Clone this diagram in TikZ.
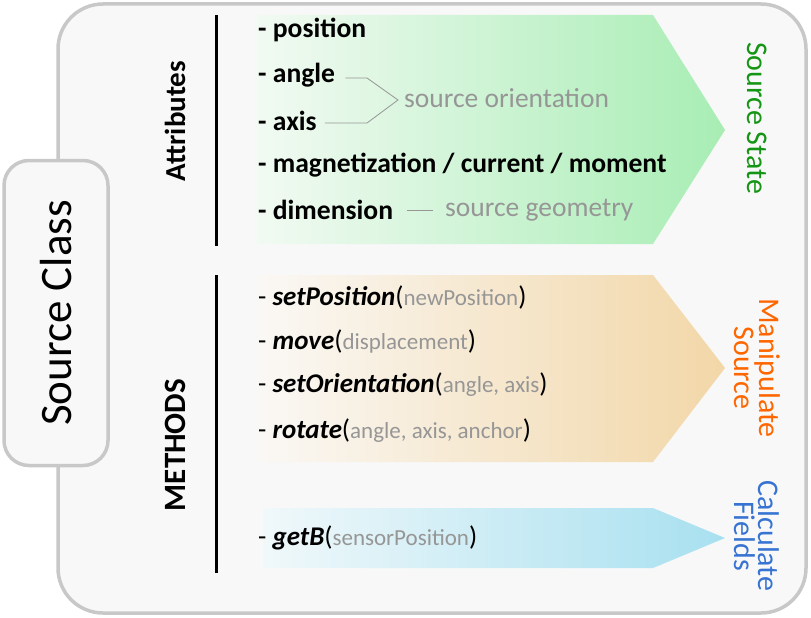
\documentclass[tikz,border=0pt]{standalone}
\usepackage{fontspec}
\setmainfont{Carlito}
\usetikzlibrary{calc}
\definecolor{panelfill}{RGB}{248,248,248}
\definecolor{panelline}{RGB}{200,200,200}
\definecolor{notegray}{RGB}{150,150,150}
\definecolor{stategreen}{RGB}{20,150,20}
\definecolor{manorange}{RGB}{255,102,0}
\definecolor{calcblue}{RGB}{55,115,210}
\definecolor{greenL}{RGB}{242,250,243}
\definecolor{greenR}{RGB}{168,237,180}
\definecolor{orangeL}{RGB}{250,248,245}
\definecolor{orangeR}{RGB}{242,215,168}
\definecolor{blueL}{RGB}{240,248,250}
\definecolor{blueR}{RGB}{168,224,240}
\tikzset{
  panel/.style={draw=panelline, line width=3.5pt, fill=panelfill},
  item/.style={anchor=west, inner sep=0pt, font=\fontsize{27.6}{30}\selectfont\bfseries},
  meth/.style={anchor=west, inner sep=0pt, font=\fontsize{27}{30}\selectfont},
  note/.style={anchor=west, inner sep=0pt, text=notegray, font=\fontsize{27.5}{30}\selectfont},
  notelink/.style={draw=notegray, line width=0.8pt},
  sidetitle/.style={rotate=90, inner sep=0pt},
  rule/.style={line width=3pt, black},
  outcome/.style={rotate=-90, inner sep=0pt, align=center, font=\fontsize{30}{24}\selectfont},
}
\newcommand{\argtxt}[1]{{\color{notegray}\fontsize{23}{26}\selectfont #1}}
\begin{document}
\begin{tikzpicture}[x=1pt, y=-1pt]
\useasboundingbox (0,0) rectangle (811,618);
% outer class panel
\draw[panel, rounded corners=45pt] (58,4) rectangle (806,613);
% class label tab
\node[panel, rounded corners=25pt, minimum width=104pt, minimum height=305pt, inner sep=0pt] (cls) at (56,313) {};
\node[rotate=90, font=\fontsize{45}{50}\selectfont] (clstxt) at (cls.center) {Source Class};

% arrow-shaped bands
\shade[left color=greenL, right color=greenR] (255,15) -- (653,15) -- (725,130) -- (653,244) -- (255,244) -- cycle;
\shade[left color=orangeL, right color=orangeR] (258,275) -- (653,275) -- (725,368) -- (653,462) -- (258,462) -- cycle;
\shade[left color=blueL, right color=blueR] (263,508) -- (653,508) -- (725,538) -- (653,568) -- (263,568) -- cycle;

% section rules
\coordinate (r1a) at (216,15);  \coordinate (r1b) at (216,246);
\coordinate (r2a) at (216,275); \coordinate (r2b) at (216,573);
\draw[rule] (r1a) -- (r1b);
\draw[rule] (r2a) -- (r2b);

\node[sidetitle, font=\fontsize{29}{32}\selectfont\bfseries] (attr) at (175,121) {Attributes};
\node[sidetitle, font=\fontsize{31}{34}\selectfont\bfseries] (meths) at (175,445) {METHODS};

% attributes
\node[item] (pos) at (258,30) {- position};
\node[item] (ang) at (258,75) {- angle};
\node[item] (axs) at (258,121) {- axis};
\node[item] (mag) at (258,165) {- magnetization / current / moment};
\node[item] (dim) at (258,210) {- dimension};

\node[note] (orient) at (404,98) {source orientation};
\coordinate (bk1) at (367,78);
\coordinate (bk2) at (367,123);
\coordinate (bktip) at (398,100);
\draw[notelink] ($(ang.east)+(10,3)$) -- (bk1) -- (bktip) -- (bk2) -- ($(axs.east)+(8,2)$);
\node[note] (geom) at (445,210) {source geometry};
\draw[notelink] ($(dim.east)+(14,0)$) -- ($(geom.west)+(-12,0)$);

% methods
\node[meth] (m1) at (258,297) {- \textbf{\textit{setPosition}}(\argtxt{newPosition})};
\node[meth] (m2) at (258,341) {- \textbf{\textit{move}}(\argtxt{displacement})};
\node[meth] (m3) at (258,385) {- \textbf{\textit{setOrientation}}(\argtxt{angle, axis})};
\node[meth] (m4) at (258,431) {- \textbf{\textit{rotate}}(\argtxt{angle, axis, anchor})};
\node[meth] (m5) at (258,538) {- \textbf{\textit{getB}}(\argtxt{sensorPosition})};

% outcomes
\node[outcome, text=stategreen] (state) at (757,118) {Source State};
\node[outcome, text=manorange] (manip) at (757,368) {Manipulate\\Source};
\node[outcome, text=calcblue] (calc) at (757,536) {Calculate\\Fields};
\end{tikzpicture}
\end{document}
